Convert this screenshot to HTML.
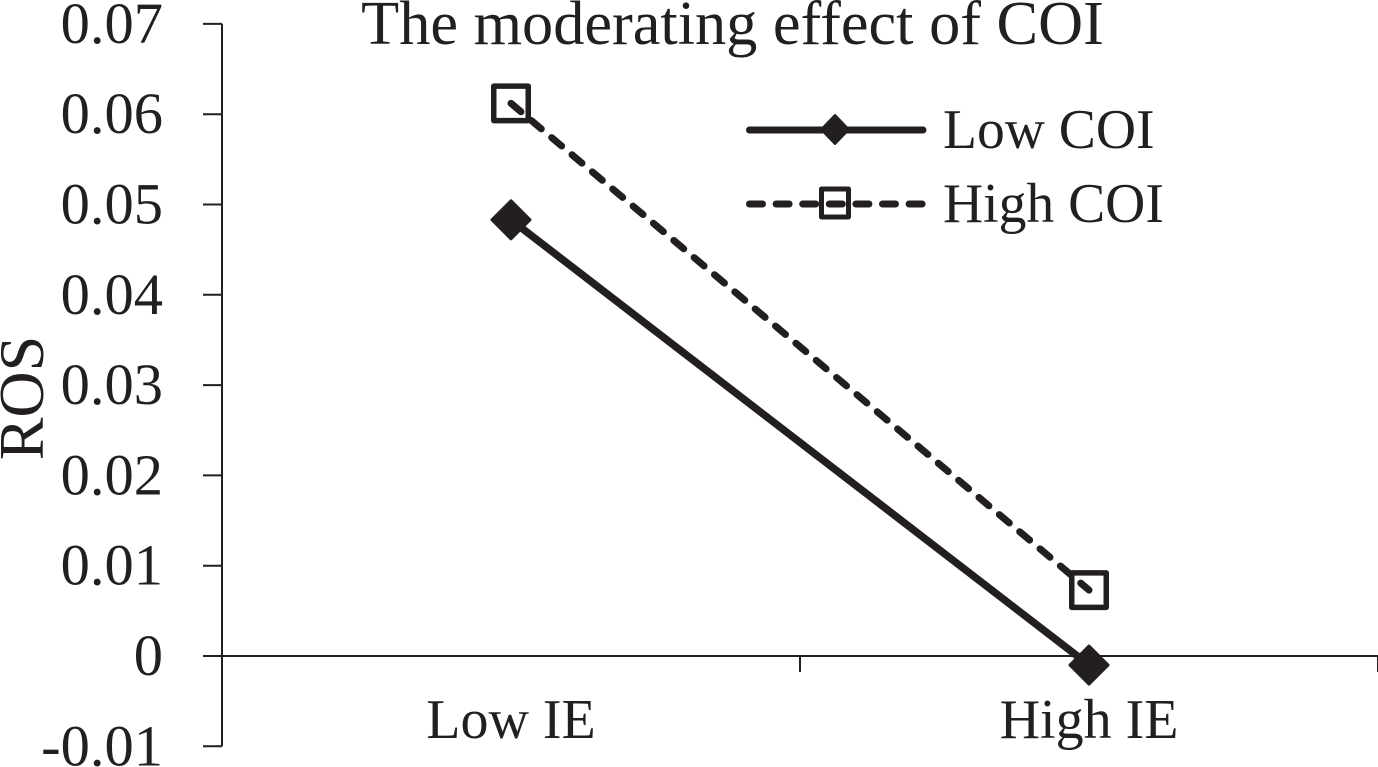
<!DOCTYPE html>
<html>
<head>
<meta charset="utf-8">
<style>
html,body{margin:0;padding:0;background:#fff;width:1378px;height:767px;overflow:hidden}
svg{display:block}
text{font-family:"Liberation Serif",serif;fill:#231f20}
</style>
</head>
<body>
<svg id="chart" width="1378" height="767" viewBox="0 0 1378 767" xmlns="http://www.w3.org/2000/svg">
<text x="732.5" y="44" font-size="62.3" text-anchor="middle">The moderating effect of COI</text>
<text transform="translate(43,398) rotate(-90)" font-size="64" text-anchor="middle">ROS</text>
<g id="axes"></g>
<g id="series"></g>
<g>
  <g>
    <line x1="749.5" y1="130" x2="923" y2="130" stroke="#231f20" stroke-width="7" stroke-linecap="round"></line>
    <polygon points="835,115 849,129.5 835,144 821,129.5" fill="#231f20" stroke="#231f20" stroke-width="2" stroke-linejoin="round"></polygon>
    <text x="943" y="148" font-size="55.6">Low COI</text>
  </g>
  <g>
    <line x1="749.5" y1="204" x2="926" y2="204" stroke="#231f20" stroke-width="7" stroke-linecap="round" stroke-dasharray="13 13.6"></line>
    <rect x="821.5" y="189" width="27" height="28" fill="none" stroke="#231f20" stroke-width="5" stroke-linejoin="round"></rect>
    <text x="943" y="222" font-size="55.6">High COI</text>
  </g>
</g>
</svg>
<script>
const categories = ["Low IE", "High IE"];
const lowCOI = [0.0483, -0.001];
const highCOI = [0.0612, 0.0073];
const yTicks = [0.07, 0.06, 0.05, 0.04, 0.03, 0.02, 0.01, 0, -0.01];
const yTickLabels = ["0.07", "0.06", "0.05", "0.04", "0.03", "0.02", "0.01", "0", "-0.01"];

const NS = "http://www.w3.org/2000/svg";
const INK = "#231f20";
const plotLeft = 222, plotRight = 1378;
const yZero = 656, yPerUnit = 9030;
function yScale(v) { return yZero - v * yPerUnit; }
function xBand() { return (plotRight - plotLeft) / categories.length; }
function xScale(i) { return plotLeft + xBand() * (i + 0.5); }
function make(tag, attrs, parent) {
  const el = document.createElementNS(NS, tag);
  for (const k in attrs) el.setAttribute(k, attrs[k]);
  parent.appendChild(el);
  return el;
}
const axes = document.getElementById("axes");
const seriesG = document.getElementById("series");

const yAxis = make("line", {x1: plotLeft, x2: plotLeft, y1: yScale(0.07), y2: yScale(-0.01), stroke: INK, "stroke-width": 2}, axes);


const xAxis = make("line", {x1: plotLeft, x2: plotRight, y1: yScale(0), y2: yScale(0), stroke: INK, "stroke-width": 2}, axes);



yTicks.forEach((v, i) => {
  const t = make("line", {x1: plotLeft - 19, x2: plotLeft, y1: yScale(v), y2: yScale(v), stroke: INK, "stroke-width": 2}, axes);
  
  
  const l = make("text", {x: 163, y: yScale(v) + 19, "font-size": 58.5, "text-anchor": "end"}, axes);
  
  
  l.textContent = yTickLabels[i];
});
for (let i = 0; i <= categories.length; i++) {
  const x = plotLeft + xBand() * i;
  const t = make("line", {x1: x, x2: x, y1: yScale(0), y2: yScale(0) + 16, stroke: INK, "stroke-width": 2}, axes);
  
  
}
categories.forEach((c, i) => {
  const l = make("text", {x: xScale(i), y: 738, "font-size": 56, "text-anchor": "middle"}, axes);
  
  
  l.textContent = c;
});

const highLine = make("polyline", {points: highCOI.map((v, i) => xScale(i) + "," + yScale(v)).join(" "), fill: "none", stroke: INK, "stroke-width": 7, "stroke-linecap": "round", "stroke-dasharray": "13 13.6"}, seriesG);


highCOI.forEach((v, i) => {
  const s = 34.5;
  const r = make("rect", {x: xScale(i) - s / 2, y: yScale(v) - s / 2, width: s, height: s, fill: "none", stroke: INK, "stroke-width": 5.5, "stroke-linejoin": "round"}, seriesG);
  
  
});

const lowLine = make("polyline", {points: lowCOI.map((v, i) => xScale(i) + "," + yScale(v)).join(" "), fill: "none", stroke: INK, "stroke-width": 7.5}, seriesG);


lowCOI.forEach((v, i) => {
  const x = xScale(i), y = yScale(v), d = 19;
  const p = make("polygon", {points: [x, y - d, x + d, y, x, y + d, x - d, y].join(" "), fill: INK, stroke: INK, "stroke-width": 3, "stroke-linejoin": "round"}, seriesG);
  
  
});
</script>
</body>
</html>
